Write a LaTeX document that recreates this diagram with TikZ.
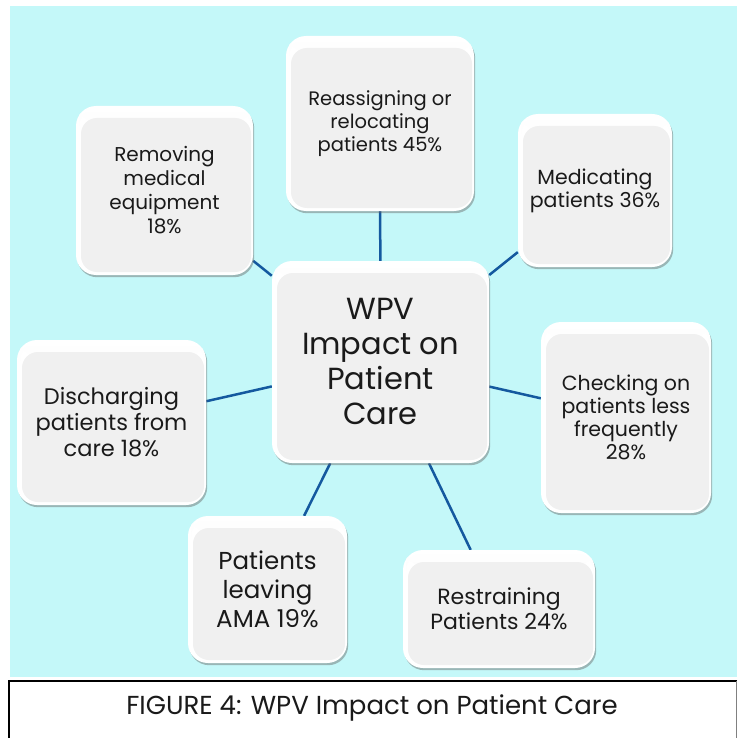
\documentclass[tikz,border=0pt]{standalone}
\usepackage{fontspec}
\setmainfont{Poppins}
\usetikzlibrary{backgrounds,shadows}
\definecolor{bgcyan}{HTML}{C4F8F9}
\definecolor{linkblue}{HTML}{14599F}
\definecolor{boxgray}{HTML}{F0F0F0}
\definecolor{txt}{HTML}{1A1A1A}
\begin{document}
\begin{tikzpicture}[x=1pt,y=-1pt,
  card/.style={rectangle, rounded corners=20pt, fill=white, align=center, text=txt, inner sep=0pt,
    drop shadow={shadow xshift=1.2pt, shadow yshift=-2.2pt, opacity=0.45, fill=black!60},
    path picture={
      \shade[top color=white, bottom color=boxgray, rounded corners=17pt] ([xshift=3pt,yshift=-3pt]path picture bounding box.north west) rectangle ([xshift=-2pt,yshift=-16pt]path picture bounding box.north east);
      \fill[boxgray, rounded corners=16pt] ([xshift=5pt,yshift=-12pt]path picture bounding box.north west) rectangle ([xshift=-2pt,yshift=3pt]path picture bounding box.south east);}},
  link/.style={draw=linkblue, line width=2.5pt}]
\useasboundingbox (0,0) rectangle (737,738);
\node[card, minimum width=217pt, minimum height=202pt, font=\fontsize{30.5}{35}\selectfont] (c) at (380.5,362) {WPV\\Impact on\\Patient\\Care};
\node[card, minimum width=188pt, minimum height=175pt, font=\fontsize{19.5}{23}\selectfont] (r1) at (380,123.5) {Reassigning or\\relocating\\patients 45\%};
\node[card, minimum width=154pt, minimum height=153pt, font=\fontsize{20.5}{23}\selectfont] (r2) at (595,190.5) {Medicating\\patients 36\%};
\node[card, minimum width=170pt, minimum height=191pt, font=\fontsize{20.5}{23}\selectfont] (r3) at (626,417.5) {Checking on\\patients less\\frequently\\28\%};
\node[card, minimum width=192pt, minimum height=118pt, font=\fontsize{22}{25}\selectfont] (r4) at (499,609) {Restraining\\Patients 24\%};
\node[card, minimum width=159pt, minimum height=147pt, font=\fontsize{24.5}{29}\selectfont] (r5) at (267.5,589.5) {Patients\\leaving\\AMA 19\%};
\node[card, minimum width=189pt, minimum height=165pt, font=\fontsize{22.5}{26}\selectfont] (r6) at (111.5,422.5) {Discharging\\patients from\\care 18\%};
\node[card, minimum width=177pt, minimum height=169pt, font=\fontsize{20}{24}\selectfont] (r7) at (164.5,190.5) {Removing\\medical\\equipment\\18\%};
\node[font=\fontsize{26}{30}\selectfont, text=txt] (cap) at (372,708) {FIGURE 4: WPV Impact on Patient Care};
\begin{scope}[on background layer]
  \fill[white] (0,0) rectangle (737,738);
  \fill[bgcyan] (10,6) rectangle (737,677);
  \draw[black, line width=2pt] (9,738) -- (9,681) -- (737,681);
  \draw[gray, line width=0.8pt] (736,681) -- (736,738);
  \foreach \n in {r1,r2,r3,r4,r5,r6,r7} {\draw[link] (c) -- (\n);}
\end{scope}
\end{tikzpicture}
\end{document}
